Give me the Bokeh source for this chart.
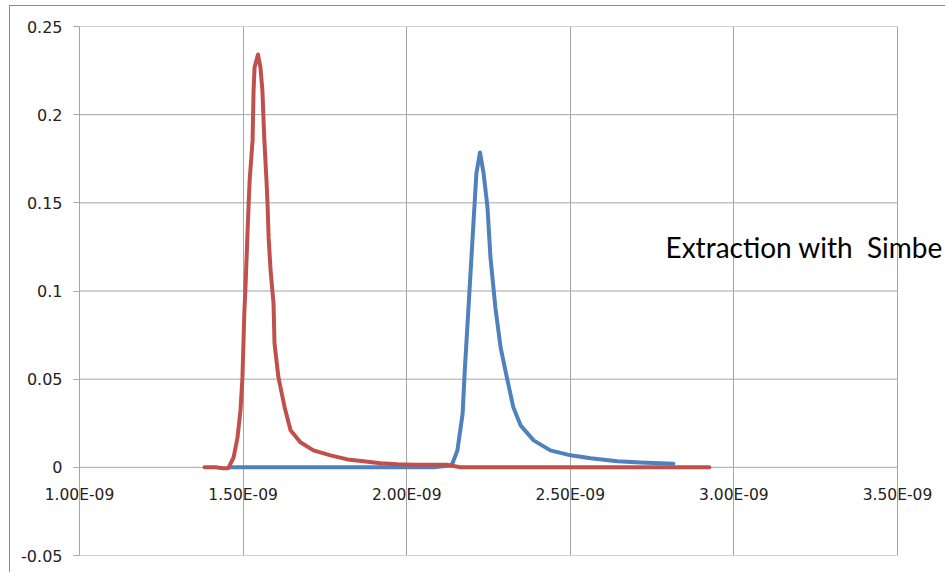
from bokeh.plotting import figure
from bokeh.models import FixedTicker, Label, Range1d
from bokeh.embed import file_html
from bokeh.resources import INLINE

# ---- data ----
blue_x = [1.461e-9, 2.082e-9, 2.134e-9, 2.140e-9, 2.155e-9, 2.171e-9, 2.177e-9, 2.186e-9,
          2.195e-9, 2.204e-9, 2.213e-9, 2.224e-9, 2.235e-9, 2.247e-9, 2.256e-9, 2.271e-9,
          2.287e-9, 2.308e-9, 2.326e-9, 2.348e-9, 2.388e-9, 2.439e-9, 2.501e-9, 2.562e-9,
          2.644e-9, 2.715e-9, 2.815e-9]
blue_y = [0.0, 0.0, 0.0011, 0.0023, 0.0096, 0.0306, 0.0533, 0.0816,
          0.1100, 0.1383, 0.1667, 0.1786, 0.1667, 0.1474, 0.1190, 0.0907,
          0.0680, 0.0493, 0.0340, 0.0238, 0.0153, 0.0096, 0.0068, 0.0051,
          0.0034, 0.0028, 0.0021]

red_x = [1.382e-9, 1.416e-9, 1.437e-9, 1.455e-9, 1.471e-9, 1.483e-9, 1.492e-9, 1.498e-9,
         1.501e-9, 1.504e-9, 1.507e-9, 1.513e-9, 1.517e-9, 1.520e-9, 1.529e-9, 1.532e-9,
         1.535e-9, 1.5455e-9, 1.553e-9, 1.559e-9, 1.565e-9, 1.5715e-9, 1.5746e-9, 1.578e-9,
         1.584e-9, 1.593e-9, 1.596e-9, 1.608e-9, 1.627e-9, 1.645e-9, 1.675e-9, 1.715e-9,
         1.767e-9, 1.819e-9, 1.868e-9, 1.920e-9, 1.972e-9, 2.021e-9, 2.125e-9, 2.164e-9,
         2.287e-9, 2.925e-9]
red_y = [0.0, 0.0, -0.0005, -0.0005, 0.0057, 0.017, 0.0323, 0.051,
         0.070, 0.089, 0.1004, 0.1304, 0.1497, 0.1627, 0.1854, 0.2137,
         0.2268, 0.2341, 0.2268, 0.2137, 0.1854, 0.1627, 0.1497, 0.1304,
         0.1117, 0.0930, 0.0703, 0.0510, 0.0340, 0.0210, 0.0142, 0.0096,
         0.0068, 0.0045, 0.0034, 0.0023, 0.0017, 0.0014, 0.0014, 0.0,
         0.0, 0.0]

x_ticks = [1.0e-9, 1.5e-9, 2.0e-9, 2.5e-9, 3.0e-9, 3.5e-9]
x_tick_labels = ["1.00E-09", "1.50E-09", "2.00E-09", "2.50E-09", "3.00E-09", "3.50E-09"]
y_ticks = [-0.05, 0.0, 0.05, 0.1, 0.15, 0.2, 0.25]
y_tick_labels = ["-0.05", "0", "0.05", "0.1", "0.15", "0.2", "0.25"]
note_text = "Extraction with\u00a0 Simbe"

GRID = "#a6a6a6"
TXT = "#222222"

p = figure(width=936, height=567, output_backend="svg", toolbar_location=None,
           x_range=Range1d(x_ticks[0], x_ticks[-1] + 0.1498e-9),
           y_range=Range1d(y_ticks[0], y_ticks[-1]),
           min_border_left=69, min_border_right=0, min_border_top=20, min_border_bottom=18)
p.styles = {"margin-left": "9px", "margin-top": "5px",
            "border-left": "1px solid #8c8c8c", "border-top": "1px solid #8c8c8c"}
p.background_fill_color = "white"
p.border_fill_color = "white"
p.outline_line_color = None

# y axis (left)
p.yaxis.ticker = FixedTicker(ticks=y_ticks)
p.yaxis.major_label_overrides = {t: l for t, l in zip(y_ticks, y_tick_labels)}
p.yaxis.axis_line_color = GRID
p.yaxis.major_tick_line_color = GRID
p.yaxis.major_tick_out = 6
p.yaxis.major_tick_in = 0
p.yaxis.minor_tick_line_color = None
p.yaxis.major_label_standoff = 11
p.yaxis.major_label_text_font = "DejaVu Sans"
p.yaxis.major_label_text_font_size = "16px"
p.yaxis.major_label_text_color = TXT

# x axis: labels are drawn next to the zero line, where Excel crosses the axes
p.xaxis.ticker = FixedTicker(ticks=x_ticks)
p.xaxis.major_label_overrides = {t: l for t, l in zip(x_ticks, x_tick_labels)}
p.xaxis.axis_line_color = None
p.xaxis.major_tick_line_color = None
p.xaxis.minor_tick_line_color = None
p.xaxis.major_tick_out = 0
p.xaxis.major_tick_in = 0
p.xaxis.major_label_standoff = -70
p.xaxis.major_label_text_font = "DejaVu Sans"
p.xaxis.major_label_text_font_size = "15.5px"
p.xaxis.major_label_text_color = TXT

# vertical gridlines
p.xgrid.ticker = FixedTicker(ticks=x_ticks)
p.xgrid.grid_line_color = GRID
p.xgrid.grid_line_width = 1
p.ygrid.visible = False

# horizontal gridlines, limited to the plot area
n = len(y_ticks)
p.segment(x0=[x_ticks[0]] * n, y0=y_ticks, x1=[x_ticks[-1]] * n, y1=y_ticks,
          line_color=GRID, line_width=1)

# series
p.line(blue_x, blue_y, line_color="#4f81bd", line_width=4, line_join="round", line_cap="round")
p.line(red_x, red_y, line_color="#c0504d", line_width=4, line_join="round", line_cap="round")

# overlaid slide text
p.add_layout(Label(x=2.791e-9, y=0.125, text=note_text, text_font="Lato",
                   text_font_size="28px", text_color="#000000", text_baseline="alphabetic"))

open("out.html", "w").write(file_html(p, INLINE))
